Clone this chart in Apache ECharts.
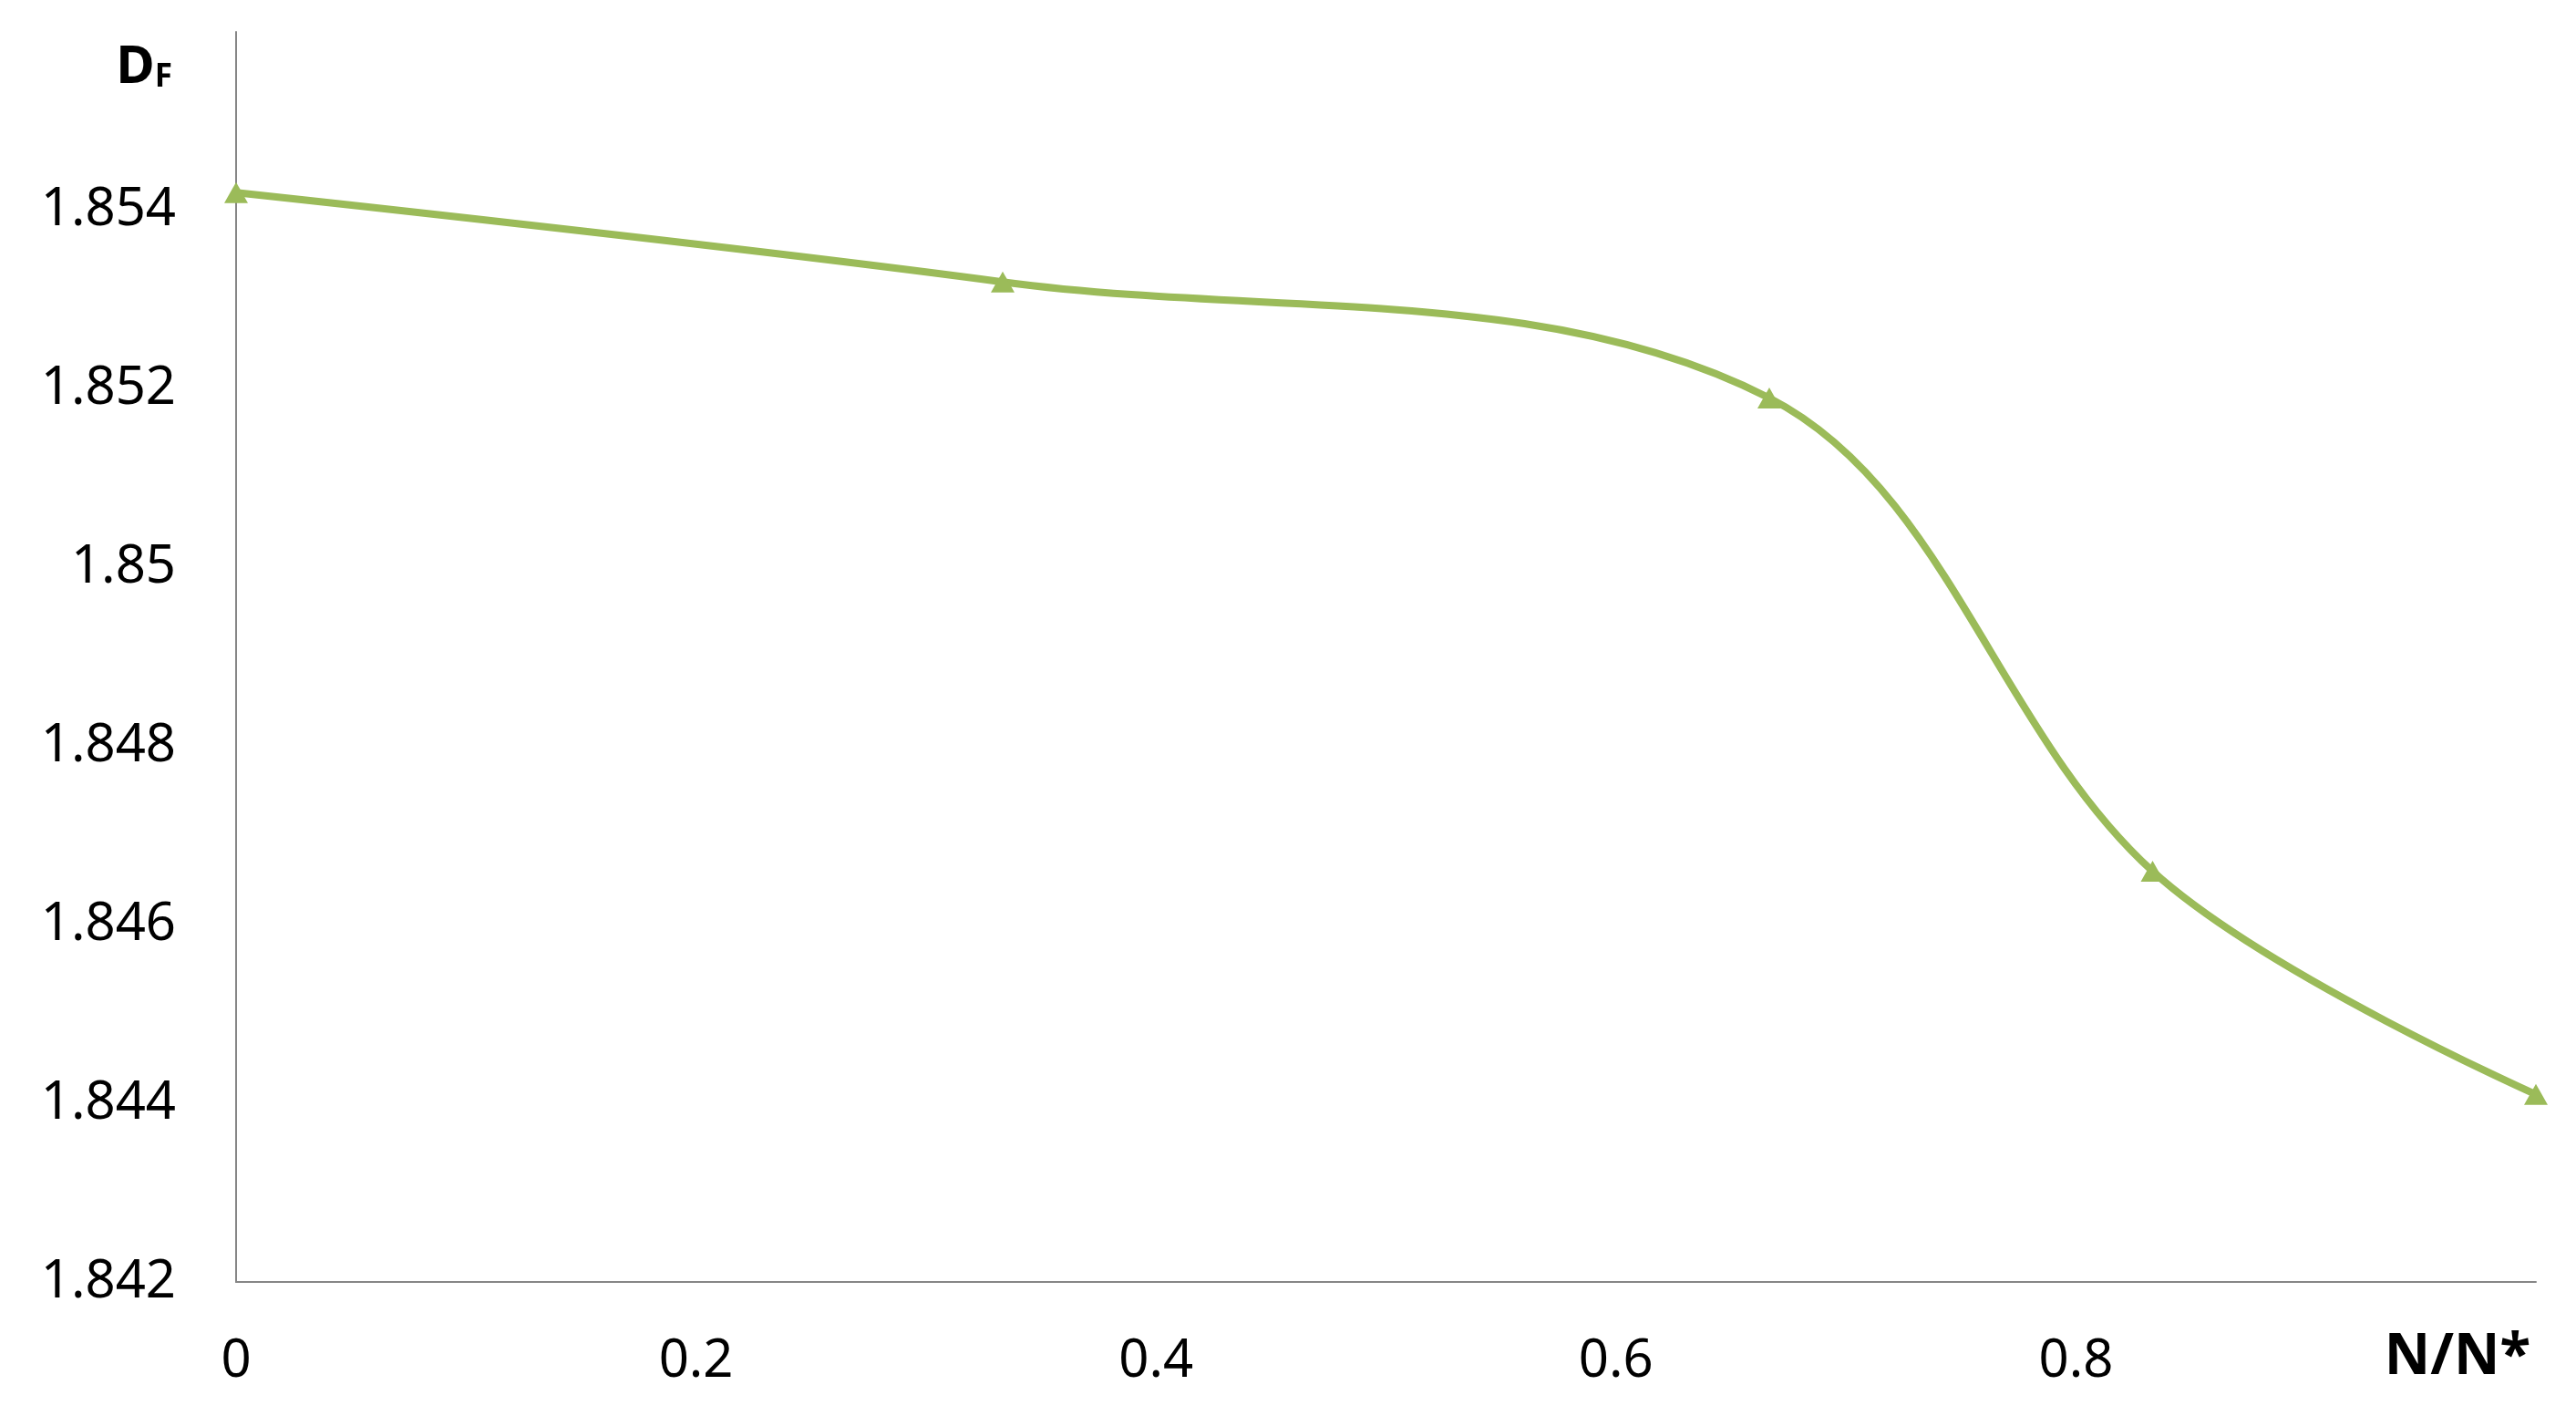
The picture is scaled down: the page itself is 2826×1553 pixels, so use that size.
<!DOCTYPE html>
<html>
<head>
<meta charset="utf-8">
<script src="https://cdn.jsdelivr.net/npm/echarts@6/dist/echarts.min.js"></script>
<style>
html,body{margin:0;padding:0;background:#fff;}
#chart{width:2826px;height:1553px;}
</style>
</head>
<body>
<div id="chart"></div>
<script>
// Data
const xValues = [0, 1/3, 2/3, 5/6, 1];
const dfValues = [1.8542, 1.8532, 1.8519, 1.8466, 1.8441];
const xTicks = [0, 0.2, 0.4, 0.6, 0.8];
const yTicks = [1.842, 1.844, 1.846, 1.848, 1.85, 1.852, 1.854];
const xAxisName = 'N/N*';
const yAxisNameMain = 'D';
const yAxisNameSub = 'F';

const seriesData = xValues.map((x, i) => [x, dfValues[i]]);

const chart = echarts.init(document.getElementById('chart'));
const fontFamily = '"Noto Sans", "Open Sans", sans-serif';
chart.setOption({
  backgroundColor: '#ffffff',
  animation: false,
  grid: { left: 259, right: 44, top: 35, bottom: 147, containLabel: false },
  xAxis: {
    type: 'value',
    min: 0,
    max: 1,
    interval: 0.2,
    axisLine: { show: true, lineStyle: { color: '#868686', width: 2 } },
    axisTick: { show: false },
    splitLine: { show: false },
    axisLabel: {
      showMaxLabel: false,
      margin: 58,
      fontSize: 58,
      fontFamily: fontFamily,
      color: '#000000'
    },
    name: xAxisName,
    nameLocation: 'end',
    nameGap: -6,
    nameTextStyle: {
      fontSize: 62,
      fontWeight: 'bold',
      fontFamily: fontFamily,
      color: '#000000',
      align: 'right',
      verticalAlign: 'top',
      padding: [52, 0, 0, 0]
    }
  },
  yAxis: {
    type: 'value',
    min: 1.842,
    max: 1.856,
    interval: 0.002,
    axisLine: { show: true, lineStyle: { color: '#868686', width: 2 } },
    axisTick: { show: false },
    splitLine: { show: false },
    axisLabel: {
      showMaxLabel: false,
      margin: 66,
      fontSize: 58,
      fontFamily: fontFamily,
      color: '#000000'
    },
    name: '{d|' + yAxisNameMain + '}{f|' + yAxisNameSub + '}',
    nameLocation: 'end',
    nameGap: -68,
    nameTextStyle: {
      align: 'right',
      verticalAlign: 'bottom',
      padding: [0, 70, 0, 0],
      rich: {
        d: { fontSize: 58, fontWeight: 'bold', fontFamily: fontFamily, color: '#000', verticalAlign: 'bottom', lineHeight: 60 },
        f: { fontSize: 35, fontWeight: 'bold', fontFamily: fontFamily, color: '#000', verticalAlign: 'bottom', lineHeight: 50 }
      }
    }
  },
  series: [{
    type: 'line',
    data: seriesData,
    smooth: 0.35,
    symbol: 'triangle',
    symbolSize: [26, 23],
    showSymbol: true,
    lineStyle: { color: '#9BBB59', width: 8 },
    itemStyle: { color: '#9BBB59' }
  }]
});
</script>
</body>
</html>
